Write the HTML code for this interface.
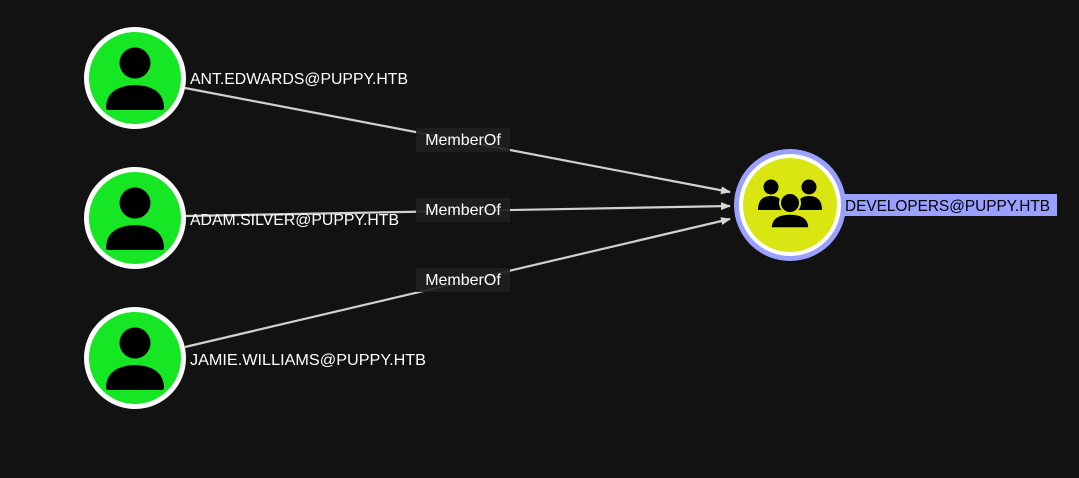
<!DOCTYPE html>
<html><head><meta charset="utf-8"><style>
html,body{margin:0;padding:0;background:#121212;}
svg{display:block;}
text{font-family:"Liberation Sans",sans-serif;}
</style></head><body>
<svg width="1079" height="478" viewBox="0 0 1079 478">
<defs>
<marker id="ar" markerWidth="10" markerHeight="8" refX="9" refY="4" orient="auto" markerUnits="userSpaceOnUse">
<path d="M0,0 L10,4 L0,8 Z" fill="#d8d8d8"/>
</marker>
<g id="user">
<circle r="51" fill="#ffffff"/>
<circle r="46" fill="#17e625"/>
<circle cx="0" cy="-15" r="15.5" fill="#000"/>
<path d="M-27,32 L27,32 Q29,32 29,29 Q28,8 0,7 Q-28,8 -29,29 Q-29,32 -27,32 Z" fill="#000"/>
</g>
</defs>
<g stroke="#d0d0d0" stroke-width="2.2" fill="none" marker-end="url(#ar)">
<line x1="185" y1="88" x2="730" y2="192"/>
<line x1="185" y1="216" x2="730" y2="206"/>
<line x1="185" y1="347" x2="730" y2="219"/>
</g>
<use href="#user" x="135" y="78"/>
<use href="#user" x="135" y="218"/>
<use href="#user" x="135" y="358"/>
<text x="190" y="84" fill="#fff" font-size="16" textLength="218" lengthAdjust="spacingAndGlyphs">ANT.EDWARDS@PUPPY.HTB</text>
<text x="190" y="225" fill="#fff" font-size="16" textLength="209" lengthAdjust="spacingAndGlyphs">ADAM.SILVER@PUPPY.HTB</text>
<text x="190" y="365" fill="#fff" font-size="16" textLength="236" lengthAdjust="spacingAndGlyphs">JAMIE.WILLIAMS@PUPPY.HTB</text>
<g>
<rect x="416" y="128" width="94" height="24" fill="#1f1f1f" fill-opacity="0.92"/>
<text x="463" y="145" fill="#fff" font-size="16" text-anchor="middle">MemberOf</text>
<rect x="416" y="198" width="94" height="24" fill="#1f1f1f" fill-opacity="0.92"/>
<text x="463" y="215" fill="#fff" font-size="16" text-anchor="middle">MemberOf</text>
<rect x="416" y="268" width="94" height="24" fill="#1f1f1f" fill-opacity="0.92"/>
<text x="463" y="285" fill="#fff" font-size="16" text-anchor="middle">MemberOf</text>
</g>
<circle cx="790" cy="205" r="56" fill="#9aa0ff"/>
<circle cx="790" cy="205" r="51" fill="#ffffff"/>
<circle cx="790" cy="205" r="47" fill="#d9e612"/>
<g fill="#000">
<circle cx="771" cy="187" r="7.5"/>
<circle cx="809" cy="187" r="7.5"/>
<path d="M758,210 Q758,196 771,196 Q780,196 782,203 L782,210 Z"/>
<path d="M822,210 Q822,196 809,196 Q800,196 798,203 L798,210 Z"/>
<circle cx="790" cy="203" r="10" stroke="#d9e612" stroke-width="2"/>
<path d="M771,228 Q771,214 790,214 Q809,214 809,228 Z" stroke="#d9e612" stroke-width="1.5"/>
</g>
<rect x="843" y="194" width="214" height="22" fill="#9aa0ff"/>
<text x="845" y="211" fill="#000" font-size="16" textLength="205" lengthAdjust="spacingAndGlyphs">DEVELOPERS@PUPPY.HTB</text>
</svg>
</body></html>
